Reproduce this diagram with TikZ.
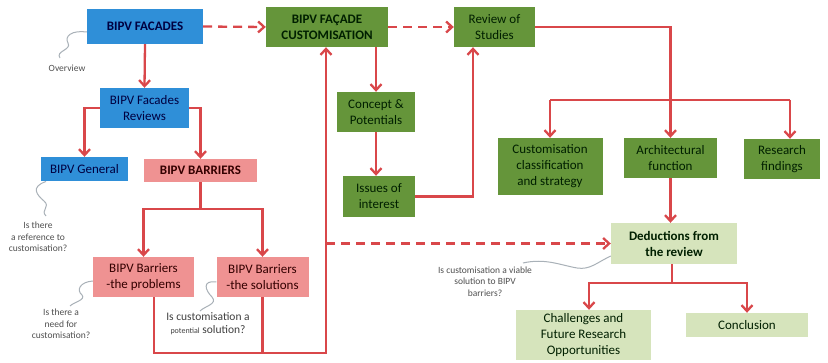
\documentclass[tikz,border=0pt]{standalone}
\usepackage{fontspec}
\setmainfont{Carlito}
\usetikzlibrary{arrows.meta}
\definecolor{lred}{HTML}{D9474A}
\definecolor{bblue}{HTML}{2F8FD8}
\definecolor{bpink}{HTML}{EF9292}
\definecolor{bgreen}{HTML}{65953A}
\definecolor{lgreen}{HTML}{D6E4BC}
\definecolor{sq}{HTML}{A9B1B8}
\definecolor{anno}{HTML}{505050}
\begin{document}
\begin{tikzpicture}[x=1pt,y=-1pt,
  box/.style={rectangle, inner sep=0pt, align=center, font=\fontsize{13}{16}\selectfont},
  bbf/.style={font=\fontsize{13}{16}\selectfont\bfseries},
  bluebox/.style={box, fill=bblue, text=blue!25!black},
  pinkbox/.style={box, fill=bpink, text=red!20!black},
  greenbox/.style={box, fill=bgreen, text=green!12!black},
  lgreenbox/.style={box, fill=lgreen, text=green!12!black},
  conn/.style={draw=lred, line width=2.3pt},
  arr/.style={conn, -{Straight Barb[length=6pt,width=11pt]}},
  dsh/.style={arr, dash pattern=on 9pt off 6pt},
  squig/.style={draw=sq, line width=1pt},
  note/.style={align=center, text=anno, inner sep=0pt, font=\fontsize{9.5}{11.5}\selectfont},
]
\useasboundingbox (0,0) rectangle (828,363);
\fill[white] (0,0) rectangle (828,363);

% nodes
\node[bluebox, bbf, minimum width=116, minimum height=35] (facades) at (145,26.5) {BIPV FACADES};
\node[greenbox, bbf, minimum width=122, minimum height=40] (custom) at (327,27) {BIPV FAÇADE\\CUSTOMISATION};
\node[greenbox, minimum width=81, minimum height=40] (review) at (494.5,27) {Review of\\Studies};
\node[bluebox, minimum width=89, minimum height=40] (fr) at (144.5,108) {BIPV Facades\\Reviews};
\node[bluebox, minimum width=87, minimum height=24] (general) at (84.5,169) {BIPV General};
\node[pinkbox, bbf, minimum width=113, minimum height=23] (barriers) at (200.5,170.5) {BIPV BARRIERS};
\node[pinkbox, minimum width=101, minimum height=40] (problems) at (143.5,277) {BIPV Barriers\\-the problems};
\node[pinkbox, minimum width=92, minimum height=40] (solutions) at (262.5,277) {BIPV Barriers\\-the solutions};
\node[greenbox, minimum width=78, minimum height=40] (concept) at (376,112) {Concept \&\\Potentials};
\node[greenbox, minimum width=72, minimum height=41] (issues) at (379,196.5) {Issues of\\interest};
\node[greenbox, minimum width=105, minimum height=57] (cc) at (550,166.5) {Customisation\\classification\\and strategy};
\node[greenbox, minimum width=93, minimum height=40] (af) at (670.5,158) {Architectural\\function};
\node[greenbox, minimum width=76, minimum height=40] (rf) at (782,159) {Research\\findings};
\node[lgreenbox, bbf, minimum width=126, minimum height=41] (ded) at (674,243.5) {Deductions from\\the review};
\node[lgreenbox, minimum width=135, minimum height=50] (chal) at (583.5,335) {Challenges and\\Future Research\\Opportunities};
\node[lgreenbox, minimum width=122, minimum height=24] (concl) at (747,325) {Conclusion};

% annotations
\node[note] (n1) at (67,68) {Overview};
\node[note] (n2) at (38,237) {Is there\\a reference to\\customisation?};
\node[note] (n3) at (61,324) {Is there a\\need for\\customisation?};
\node[note, text=anno!80!black, font=\fontsize{11.5}{13.5}\selectfont] (n4) at (208,323.5) {Is customisation a\\{\fontsize{8}{9}\selectfont potential} solution?};
\node[note] (n5) at (485,281.5) {Is customisation a viable\\solution to BIPV\\barriers?};

% squiggles
\draw[squig] (facades.west |- 0,32) .. controls (72,30) and (64,36) .. (68,43) .. controls (72,50) and (55,51) .. (60,58);
\draw[squig] (46,181.5) .. controls (30,187) and (37,195) .. (44,201) .. controls (51,207) and (40,210) .. (46,216);
\draw[squig] (problems.west |- 0,281) .. controls (80,282) and (76,290) .. (82,295) .. controls (86,300) and (74,302) .. (70,306);
\draw[squig] (solutions.west |- 0,282) .. controls (202,280) and (205,290) .. (212,297) .. controls (218,304) and (205,306) .. (200,311);
\draw[squig] (ded.west |- 0,256) .. controls (596,263) and (590,270) .. (577,268) .. controls (560,265) and (545,258) .. (523,263);

% helper coordinates
\coordinate (bj) at (200.5,209);
\coordinate (lb) at (326,353);
\coordinate (pbx) at (154,0);
\coordinate (rx) at (473,0);
\coordinate (cnx) at (376,0);
\coordinate (bl) at (550,100);
\coordinate (br) at (790,100);
\coordinate (dj) at (672,283);
\coordinate (chx) at (589,0);

% connectors
\draw[arr] (facades.south) -- (fr.north);
\draw[arr] (fr.west) -| (general.north);
\draw[arr] (fr.east) -| (barriers.north);
\draw[conn] (barriers.south) -- (bj);
\draw[arr] (bj) -| (problems.north);
\draw[arr] (bj) -| (solutions.north);
\draw[arr] (problems.south -| pbx) |- (lb) -- (lb |- custom.south);
\draw[conn] (solutions.south) -- (solutions.south |- lb);
\draw[dsh] (facades.east) -- (custom.west);
\draw[dsh] (custom.east) -- (review.west);
\draw[arr] (cnx |- custom.south) -- (concept.north);
\draw[arr] (concept.south) -- (concept.south |- issues.north);
\draw[arr] (issues.east) -| (rx |- review.south);
\draw[arr] (review.east) -| (af.north);
\draw[conn] (bl) -- (br);
\draw[arr] (bl) -- (cc.north);
\draw[arr] (br) -- (br |- rf.north);
\draw[arr] (af.south) -- (af.south |- ded.north);
\draw[dsh] (lb |- ded.west) -- (ded.west);
\draw[conn] (dj |- ded.south) -- (dj);
\draw[arr] (dj) -| (chx |- chal.north);
\draw[arr] (dj) -| (concl.north);
\end{tikzpicture}
\end{document}
